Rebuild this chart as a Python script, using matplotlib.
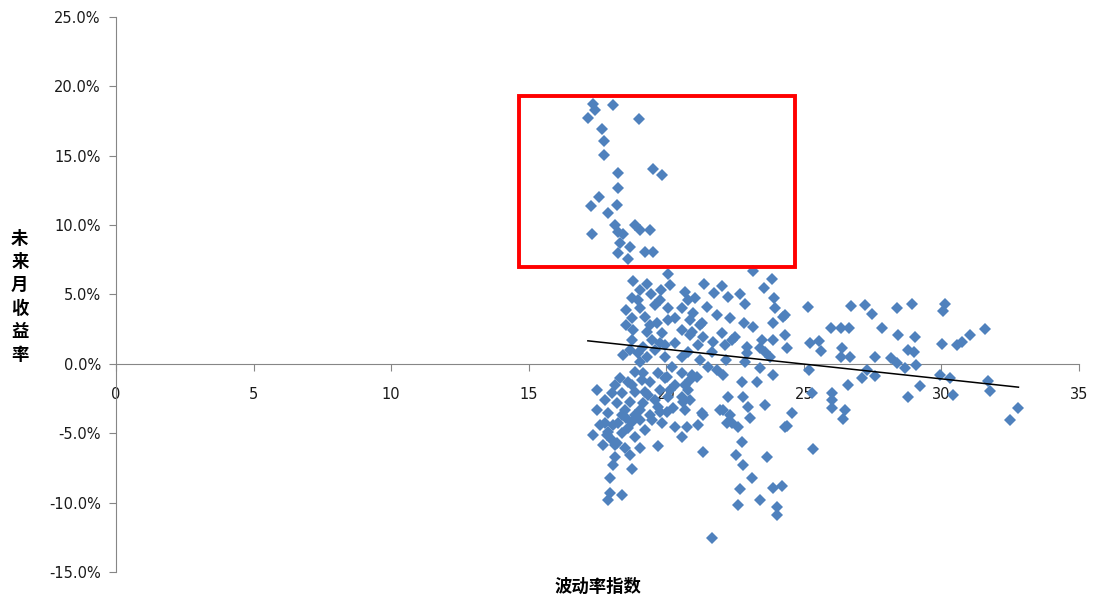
import matplotlib
matplotlib.use("Agg")
import matplotlib.pyplot as plt
from matplotlib.patches import Rectangle
from matplotlib.ticker import FuncFormatter

plt.rcParams['font.family'] = ['DejaVu Sans', 'Noto Sans CJK SC']

# volatility index (x) and next-month return in % (y)
vol = [
    # inside the red box
    17.33, 17.41, 18.06, 17.15, 19.00, 17.66, 17.73, 17.73, 18.24, 19.51,
    19.84, 18.24, 17.55, 17.26, 18.20, 17.88, 18.13, 18.86, 19.04, 19.40,
    17.30, 18.24, 18.42, 18.31, 18.68, 18.24, 19.22, 19.51, 18.60,
    # upper cluster
    20.06, 18.79, 19.29, 20.13, 19.80, 20.68, 18.75, 19.44, 19.04, 19.59,
    20.06, 20.57, 18.75, 19.22, 19.66, 20.31, 18.79, 19.29, 19.84, 20.57,
    18.75, 19.15, 19.77, 20.31, 18.42, 18.97, 19.29, 19.95, 20.57,
    21.37, 22.02, 21.73, 22.24, 22.67, 23.15, 23.84, 23.55, 21.04, 21.48,
    22.86, 23.91, 20.97, 21.84, 22.31, 23.95, 24.31, 21.29, 22.82, 23.15,
    23.87, 20.93, 22.02, 22.49, 23.47, 24.31, 21.15, 21.69, 22.13, 22.93,
    23.87, 20.78, 23.58,
    25.15, 23.87, 21.33, 22.38, 23.40, 24.38, 22.93, 23.76, 22.17, 21.22,
    23.40, 21.84, 21.11, 20.02, 19.15,
    19.04, 18.53, 18.53, 19.48, 20.06, 20.86, 19.77, 20.78, 19.04, 19.59,
    18.68, 21.22, 22.86, 21.66,
    19.40, 19.95, 18.97, 20.86,
    # lower cluster
    17.48, 18.13, 18.60, 19.11, 19.69, 20.20, 20.57, 18.39, 18.86, 20.06,
    20.57, 18.20, 18.68, 19.15, 19.69, 20.24, 20.68, 17.88, 18.39, 18.86,
    19.40, 17.77, 18.24, 18.75, 19.22, 19.84, 20.31, 17.33, 17.88, 18.39,
    18.86, 19.69, 20.57, 18.13,
    17.77, 18.02, 18.50, 19.04, 19.33, 19.77, 20.31, 20.86, 19.95, 19.40,
    18.31, 18.86, 17.59, 18.02, 18.60, 19.47, 20.02, 20.86, 17.48, 19.04,
    18.50,
    18.06, 18.53, 19.04, 19.59, 20.13, 20.68, 19.77, 18.13, 17.70, 19.22,
    18.75,
    17.84, 18.20, 18.68, 18.06, 18.75, 17.95, 17.95, 18.39, 17.88, 20.75,
    21.15, 21.33, 20.60, 21.33, 22.06, 22.38, 22.78, 22.97, 23.04, 23.58,
    24.56, 24.38, 25.33, 22.75, 22.53, 22.78, 23.66, 23.11, 22.67, 22.60,
    23.40, 23.87, 24.20, 24.02, 24.02, 21.66,
    20.93, 21.51, 22.06, 22.75, 23.29, 20.78, 22.24, 21.95, 22.31, 21.29,
    22.20, 22.60, 24.31,
    # right side
    26.71, 27.22, 27.47, 28.38, 28.92, 30.12, 30.05, 25.98, 26.34, 26.64,
    27.83, 28.42, 29.03, 30.01, 30.56, 30.74, 31.03, 31.58, 25.22, 25.54,
    25.62, 26.38, 26.34, 26.67, 27.58, 28.16, 28.78, 29.00, 24.24, 28.38,
    28.67, 29.07, 27.29, 27.11, 27.58, 25.18, 26.60, 29.21, 28.78, 29.94,
    30.31, 31.69, 31.76, 30.41, 25.29, 26.02, 26.02, 26.02, 26.49, 26.42,
    32.78, 32.49,
]
ret = [
    18.73, 18.30, 18.66, 17.72, 17.65, 16.93, 16.07, 15.06, 13.76, 14.05,
    13.62, 12.68, 12.03, 11.38, 11.46, 10.88, 10.01, 10.01, 9.65, 9.65,
    9.37, 9.51, 9.37, 8.72, 8.43, 8.00, 8.07, 8.07, 7.56,
    6.48, 5.98, 5.76, 5.69, 5.33, 5.19, 4.76, 5.04, 4.03, 4.25,
    4.03, 4.03, 3.31, 3.39, 2.95, 3.31, 2.45, 2.31, 2.23, 2.45,
    1.73, 1.22, 1.51, 1.51, 0.65, 0.79, 0.50, 0.50, 0.50,
    5.76, 5.62, 5.12, 4.83, 5.04, 6.70, 6.12, 5.48, 4.76, 4.11,
    4.32, 4.76, 3.67, 3.53, 3.31, 4.03, 3.53, 2.95, 2.95, 2.67,
    2.95, 2.31, 2.23, 1.95, 1.73, 2.09, 1.37, 1.59, 1.37, 1.22,
    1.73, 0.86, 0.86,
    4.11, -0.79, 1.95, 1.73, 1.15, 1.15, 0.79, 0.50, 0.29, 0.29,
    -0.29, -0.43, -0.94, -0.94, -0.65,
    5.33, 3.89, 2.81, 1.73, 3.17, 3.17, 4.61, 4.61, 0.14, 1.01,
    1.01, 2.81, 0.14, 0.86,
    2.81, 1.37, 4.61, 2.09,
    -1.87, -1.51, -1.30, -1.15, -0.65, -0.22, -0.65, -2.09, -2.02, -2.38,
    -2.38, -2.81, -2.74, -2.81, -3.10, -3.17, -3.31, -3.53, -3.67, -3.67,
    -3.67, -4.25, -4.25, -4.18, -4.76, -4.25, -4.54, -5.12, -4.90, -4.97,
    -5.26, -5.91, -5.26, -6.70,
    -2.59, -2.09, -3.31, -3.31, -2.23, -1.87, -1.51, -1.15, -1.01, -1.30,
    -1.01, -0.58, -4.39, -5.48, -4.61, -4.03, -3.46, -2.59, -3.31, -6.05,
    -6.05,
    -4.39, -3.89, -4.03, -2.59, -1.87, -1.51, -3.46, -5.84, -5.84, -2.02,
    -1.51,
    -5.12, -5.69, -6.56, -7.28, -7.56, -8.21, -9.29, -9.44, -9.80, -4.54,
    -4.39, -6.34, -2.74, -3.67, -3.31, -4.25, -2.38, -3.10, -3.89, -2.95,
    -3.53, -4.47, -6.12, -5.62, -6.56, -7.28, -6.70, -8.21, -9.01, -10.16,
    -9.80, -8.93, -8.79, -10.30, -10.88, -12.54,
    -0.79, -0.22, -0.79, -1.30, -1.30, -1.87, -2.38, -3.31, -3.67, -3.53,
    -4.25, -4.54, -4.54,
    4.18, 4.25, 3.60, 4.03, 4.32, 4.32, 3.82, 2.59, 2.59, 2.59,
    2.59, 2.09, 1.95, 1.44, 1.37, 1.59, 2.09, 2.52, 1.51, 1.66,
    0.94, 1.15, 0.50, 0.50, 0.50, 0.43, 1.01, 0.86, 3.39, 0.07,
    -0.29, -0.07, -0.43, -1.01, -0.86, -0.43, -1.51, -1.59, -2.38, -0.79,
    -1.01, -1.22, -1.95, -2.23, -2.09, -2.09, -2.59, -3.17, -3.31, -3.96,
    -3.17, -4.03,
]

# linear trend line end points
trend_x = [17.15, 32.8]
trend_y = [1.66, -1.68]

# highlighted region (x0, x1, y0, y1)
box_x = [14.64, 24.67]
box_y = [7.0, 19.3]

fig = plt.figure(figsize=(11.01, 6.06), dpi=100)
ax = fig.add_axes([0.1054, 0.0561, 0.8746, 0.9159])

ax.plot(vol, [r / 100 for r in ret], linestyle="none", marker="D",
        markersize=6.0, color="#4F81BD", markeredgewidth=0, zorder=3)
ax.plot(trend_x, [t / 100 for t in trend_y], color="black", linewidth=1.1, zorder=4)

ax.add_patch(Rectangle((box_x[0], box_y[0] / 100), box_x[1] - box_x[0],
                       (box_y[1] - box_y[0]) / 100, fill=False,
                       edgecolor="#FF0000", linewidth=2.8, zorder=5))

ax.set_xlim(0, 35)
ax.set_ylim(-0.15, 0.25)
ax.set_xticks(range(0, 36, 5))
ax.set_yticks([v / 100 for v in range(-15, 26, 5)])
ax.yaxis.set_major_formatter(FuncFormatter(lambda v, p: f"{v * 100:.1f}%"))

for s in ["top", "right"]:
    ax.spines[s].set_visible(False)
ax.spines["bottom"].set_position(("data", 0))
ax.spines["bottom"].set_color("#868686")
ax.spines["left"].set_color("#868686")
ax.tick_params(axis="both", colors="#868686", labelcolor="#1a1a1a",
               labelsize=10.5, length=5, direction="out")
ax.tick_params(axis="x", pad=12)
ax.tick_params(axis="y", pad=6)

cjk = ["Noto Sans CJK SC", "DejaVu Sans"]
fig.text(0.018, 0.51, "\n".join("未来月收益率"), family=cjk, fontsize=12.5,
         fontweight="bold", ha="center", va="center", linespacing=1.38)
fig.text(0.543, 0.031, "波动率指数", family=cjk, fontsize=12.5,
         fontweight="bold", ha="center", va="center")

fig.savefig("out.png", dpi=100)
